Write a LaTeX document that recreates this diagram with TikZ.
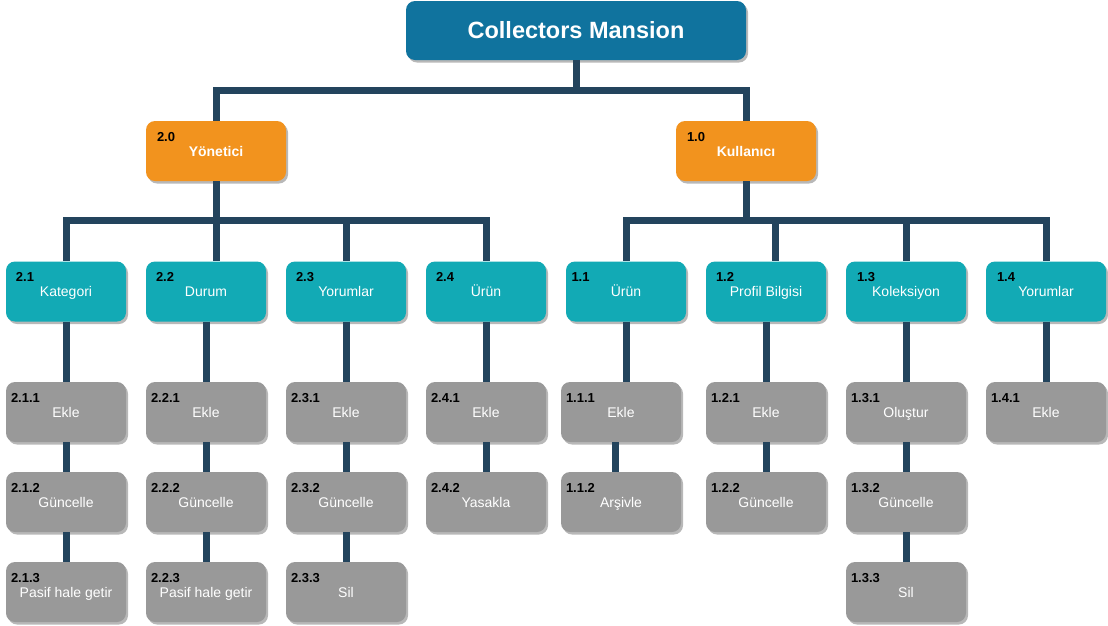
\documentclass[tikz,border=0pt]{standalone}
\usepackage{fontspec}
\setmainfont{Liberation Sans}
\usetikzlibrary{shadows}
\definecolor{cTitle}{HTML}{10739E}
\definecolor{cOrange}{HTML}{F2931E}
\definecolor{cTeal}{HTML}{12AAB5}
\definecolor{cGray}{HTML}{999999}
\definecolor{cLine}{HTML}{23445D}
\tikzset{
  boxbase/.style={rectangle, rounded corners=9pt, inner sep=0pt, draw=none,
    drop shadow={shadow xshift=2pt, shadow yshift=-2.5pt, opacity=0.28, fill=black}},
  titlebox/.style={boxbase, fill=cTitle, minimum width=340pt, minimum height=59pt},
  mainbox/.style={boxbase, fill=cOrange, minimum width=140pt, minimum height=60pt},
  subbox/.style={boxbase, fill=cTeal, minimum width=120pt, minimum height=60pt},
  leafbox/.style={boxbase, fill=cGray, minimum width=120pt, minimum height=60pt},
  numtxt/.style={anchor=base west, inner sep=0pt, font=\bfseries\fontsize{13}{15}\selectfont, text=black},
  lbltxt/.style={anchor=base, inner sep=0pt, font=\fontsize{14}{16}\selectfont, text=white},
  lblbold/.style={lbltxt, font=\bfseries\fontsize{14}{16}\selectfont},
  titletxt/.style={anchor=base, inner sep=0pt, font=\bfseries\fontsize{23.5}{26}\selectfont, text=white},
  conn/.style={draw=cLine, line width=7pt},
}
% name, box style, x, y, number, label, number x offset, label style
\newcommand\mkbox[8]{%
  \node[#2] (#1) at (#3,#4) {};
  \node[numtxt] (#1n) at ([shift={(#7,20.5)}]#1.north west) {#5};
  \node[#8] (#1l) at ([shift={(0,5)}]#1.center) {#6};
}
\begin{document}
\begin{tikzpicture}[x=1pt,y=-1pt]
\fill[white] (0,0) rectangle (1108,625);
\useasboundingbox (0,0) rectangle (1108,625);

\coordinate (topbus) at (0,90);
\coordinate (lbus) at (0,220.5);

% title
\node[titlebox] (title) at (576,30.5) {};
\node[titletxt] (titlel) at ([shift={(0,8)}]title.center) {Collectors Mansion};

% level 1
\mkbox{yon}{mainbox}{216}{151}{2.0}{Yönetici}{11}{lblbold}
\mkbox{kul}{mainbox}{746}{151}{1.0}{Kullanıcı}{11}{lblbold}

% level 2
\mkbox{k21}{subbox}{66}{291.5}{2.1}{Kategori}{10}{lbltxt}
\mkbox{k22}{subbox}{206}{291.5}{2.2}{Durum}{10}{lbltxt}
\mkbox{k23}{subbox}{346}{291.5}{2.3}{Yorumlar}{10}{lbltxt}
\mkbox{k24}{subbox}{486}{291.5}{2.4}{Ürün}{10}{lbltxt}
\mkbox{k11}{subbox}{626}{291.5}{1.1}{Ürün}{5.5}{lbltxt}
\mkbox{k12}{subbox}{766}{291.5}{1.2}{Profil Bilgisi}{10}{lbltxt}
\mkbox{k13}{subbox}{906}{291.5}{1.3}{Koleksiyon}{11}{lbltxt}
\mkbox{k14}{subbox}{1046}{291.5}{1.4}{Yorumlar}{11}{lbltxt}

% level 3
\mkbox{g211}{leafbox}{66}{412}{2.1.1}{Ekle}{5}{lbltxt}
\mkbox{g212}{leafbox}{66}{502}{2.1.2}{Güncelle}{5}{lbltxt}
\mkbox{g213}{leafbox}{66}{592}{2.1.3}{Pasif hale getir}{5}{lbltxt}
\mkbox{g221}{leafbox}{206}{412}{2.2.1}{Ekle}{5}{lbltxt}
\mkbox{g222}{leafbox}{206}{502}{2.2.2}{Güncelle}{5}{lbltxt}
\mkbox{g223}{leafbox}{206}{592}{2.2.3}{Pasif hale getir}{5}{lbltxt}
\mkbox{g231}{leafbox}{346}{412}{2.3.1}{Ekle}{5}{lbltxt}
\mkbox{g232}{leafbox}{346}{502}{2.3.2}{Güncelle}{5}{lbltxt}
\mkbox{g233}{leafbox}{346}{592}{2.3.3}{Sil}{5}{lbltxt}
\mkbox{g241}{leafbox}{486}{412}{2.4.1}{Ekle}{5}{lbltxt}
\mkbox{g242}{leafbox}{486}{502}{2.4.2}{Yasakla}{5}{lbltxt}
\mkbox{g111}{leafbox}{621}{412}{1.1.1}{Ekle}{5}{lbltxt}
\mkbox{g112}{leafbox}{621}{502}{1.1.2}{Arşivle}{5}{lbltxt}
\mkbox{g121}{leafbox}{766}{412}{1.2.1}{Ekle}{5}{lbltxt}
\mkbox{g122}{leafbox}{766}{502}{1.2.2}{Güncelle}{5}{lbltxt}
\mkbox{g131}{leafbox}{906}{412}{1.3.1}{Oluştur}{5}{lbltxt}
\mkbox{g132}{leafbox}{906}{502}{1.3.2}{Güncelle}{5}{lbltxt}
\mkbox{g133}{leafbox}{906}{592}{1.3.3}{Sil}{5}{lbltxt}
\mkbox{g141}{leafbox}{1046}{412}{1.4.1}{Ekle}{5}{lbltxt}

% helper coordinates for offset connector ends
\coordinate (k12in) at ([xshift=9pt]k12.north);
\coordinate (g111out) at ([xshift=-5.5pt]g111.south);
\coordinate (g112in) at ([xshift=-5.5pt]g112.north);

% connectors: root
\draw[conn] (title.south) |- (yon.north |- topbus) -- (yon.north);
\draw[conn] (title.south) |- (kul.north |- topbus) -- (kul.north);

% connectors: Yonetici
\draw[conn] (yon.south) |- (k21.north |- lbus) -- (k21.north);
\draw[conn] (yon.south) -- (yon.south |- k22.north);
\draw[conn] (yon.south) |- (k23.north |- lbus) -- (k23.north);
\draw[conn] (yon.south) |- (k24.north |- lbus) -- (k24.north);

% connectors: Kullanici
\draw[conn] (kul.south) |- (k11.north |- lbus) -- (k11.north);
\draw[conn] (kul.south) |- (k12in |- lbus) -- (k12in);
\draw[conn] (kul.south) |- (k13.north |- lbus) -- (k13.north);
\draw[conn] (kul.south) |- (k14.north |- lbus) -- (k14.north);

% connectors: leaves
\draw[conn] (k21.south) -- (g211.north);
\draw[conn] (g211.south) -- (g212.north);
\draw[conn] (g212.south) -- (g213.north);
\draw[conn] (k22.south) -- (g221.north);
\draw[conn] (g221.south) -- (g222.north);
\draw[conn] (g222.south) -- (g223.north);
\draw[conn] (k23.south) -- (g231.north);
\draw[conn] (g231.south) -- (g232.north);
\draw[conn] (g232.south) -- (g233.north);
\draw[conn] (k24.south) -- (g241.north);
\draw[conn] (g241.south) -- (g242.north);
\draw[conn] (k11.south) -- (k11.south |- g111.north);
\draw[conn] (g111out) -- (g112in);
\draw[conn] (k12.south) -- (g121.north);
\draw[conn] (g121.south) -- (g122.north);
\draw[conn] (k13.south) -- (g131.north);
\draw[conn] (g131.south) -- (g132.north);
\draw[conn] (g132.south) -- (g133.north);
\draw[conn] (k14.south) -- (g141.north);
\end{tikzpicture}
\end{document}
